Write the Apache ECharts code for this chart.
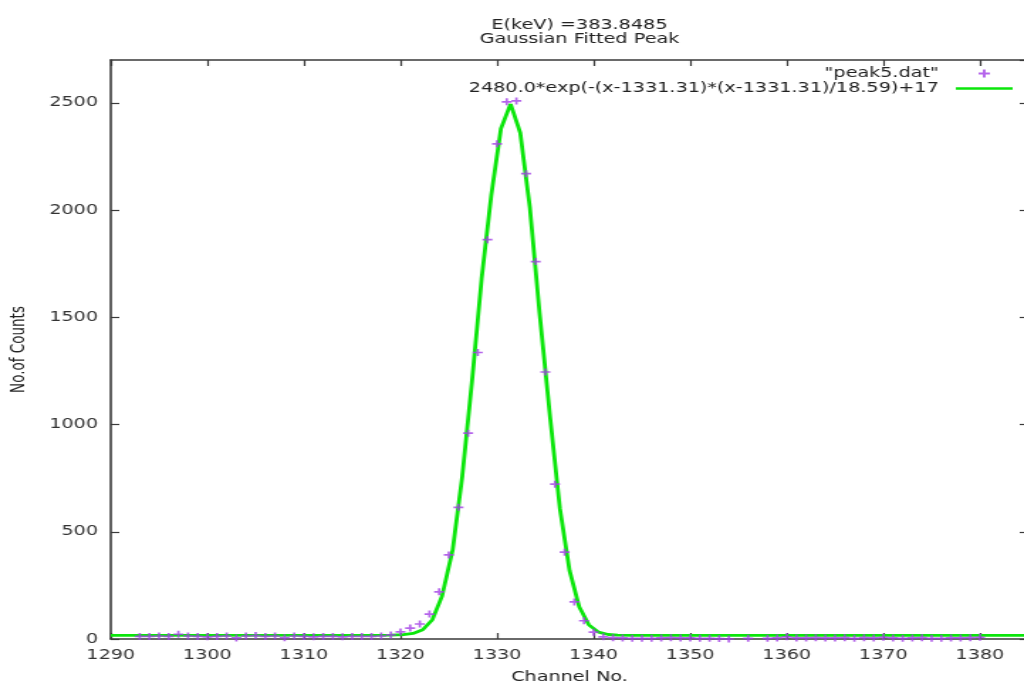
<!DOCTYPE html>
<html>
<head>
<meta charset="utf-8">
<script src="https://cdn.jsdelivr.net/npm/echarts@6/dist/echarts.min.js"></script>
<style>
  html, body { margin: 0; padding: 0; background: #fff; overflow: hidden; }
  /* the reference is stretched sideways, so draw narrow and widen it */
  #main { width: 721px; height: 683px; transform: scaleX(1.4202); transform-origin: 0 0; }
</style>
</head>
<body>
<div id="main"></div>
<script>
var chartDom = document.getElementById('main');
var myChart = echarts.init(chartDom);
var option;

// measured points from peak5.dat
let channels = [
  1293, 1294, 1295, 1296, 1297, 1298, 1299, 1300, 1301, 1302,
  1303, 1304, 1305, 1306, 1307, 1308, 1309, 1310, 1311, 1312,
  1313, 1314, 1315, 1316, 1317, 1318, 1319, 1320, 1321, 1322,
  1323, 1324, 1325, 1326, 1327, 1328, 1329, 1330, 1331, 1332,
  1333, 1334, 1335, 1336, 1337, 1338, 1339, 1340, 1341, 1342,
  1343, 1344, 1345, 1346, 1347, 1348, 1349, 1350, 1351, 1352,
  1353, 1354, 1355, 1356, 1357, 1358, 1359, 1360, 1361, 1362,
  1363, 1364, 1365, 1366, 1367, 1368, 1369, 1370, 1371, 1372,
  1373, 1374, 1375, 1376, 1377, 1378, 1379, 1380
];
let counts = [
  12, 12, 14, 12, 22, 14, 12, 10, 12, 14,
  5, 14, 16, 12, 14, 6, 14, 12, 10, 12,
  12, 10, 12, 12, 12, 14, 19, 33, 51, 70,
  116, 220, 392, 614, 960, 1336, 1862, 2309, 2505, 2509,
  2170, 1760, 1245, 722, 405, 173, 85, 32, 10, 6,
  5, 3, 3, 3, 5, 6, 5, 5, 3, 3,
  2, 0, -3, 3, -3, 3, 5, 10, 5, 5,
  6, 5, 5, 6, 3, 6, 5, 8, 5, 3,
  5, 6, 3, 3, 5, 5, 6, 8
];

// fitted curve
let fitX = [
  1290, 1319, 1320.3, 1321.3, 1322.3, 1323.3, 1324.3, 1325.4, 1326.4, 1327.4,
  1328.4, 1329.4, 1330.4, 1331.4, 1332.4, 1333.4, 1334.4, 1335.5, 1336.5, 1337.5,
  1338.5, 1339.5, 1340.5, 1341.5, 1342.5, 1344, 1385
];
let fitY = [
  17, 18, 20, 26, 43, 90, 200, 415, 760, 1200,
  1680, 2070, 2380, 2495, 2360, 2010, 1520, 1030, 610, 320,
  150, 66, 32, 21, 18, 17, 17
];

let titleText = 'E(keV) =383.8485';
let subTitleText = 'Gaussian Fitted Peak';
let dataName = '"peak5.dat"';
let fitName = '2480.0*exp(-(x-1331.31)*(x-1331.31)/18.59)+17';

let font = 'DejaVu Sans';
let plus = 'path://M3.8,0H6.2V3.8H10V6.2H6.2V10H3.8V6.2H0V3.8H3.8Z';

let points = channels.map(function (c, i) { return [c, counts[i]]; });
let fitted = fitX.map(function (x, i) { return [x, fitY[i]]; });

let axisLine = { show: true, onZero: false, lineStyle: { color: '#3a3a3a', width: 1.6 } };
let tick = { show: true, inside: true, length: 6, lineStyle: { color: '#3a3a3a', width: 1.2 } };
let plain = function (v) { return String(v); };

option = {
  animation: false,
  backgroundColor: '#fff',
  title: {
    text: titleText,
    subtext: subTitleText,
    left: 403,
    top: 13,
    textAlign: 'center',
    itemGap: 0,
    textStyle: { fontFamily: font, fontSize: 13.5, fontWeight: 'normal', color: '#222' },
    subtextStyle: { fontFamily: font, fontSize: 13.5, color: '#222' }
  },
  legend: {
    orient: 'vertical',
    right: 3,
    top: 61,
    align: 'right',
    itemWidth: 40,
    itemHeight: 8,
    itemGap: 0,
    textStyle: { fontFamily: font, fontSize: 13.5, color: '#222', lineHeight: 15, padding: [0, 7, 0, 0] },
    data: [
      { name: dataName, icon: plus },
      { name: fitName, icon: 'path://M0,0H16V1H0Z' }
    ]
  },
  grid: { left: 78, right: -3, top: 60, bottom: 44, outerBoundsMode: 'none' },
  xAxis: [
    {
      type: 'value',
      min: 1290,
      max: 1385,
      interval: 10,
      name: 'Channel No.',
      nameLocation: 'middle',
      nameGap: 31,
      nameTextStyle: { fontFamily: font, fontSize: 13.5, color: '#222' },
      axisLine: axisLine,
      axisTick: tick,
      splitLine: { show: false },
      axisLabel: { fontFamily: font, fontSize: 13.5, color: '#333', margin: 9, showMaxLabel: false, formatter: plain }
    },
    {
      type: 'value',
      position: 'top',
      min: 1290,
      max: 1385,
      interval: 10,
      axisLine: axisLine,
      axisTick: tick,
      splitLine: { show: false },
      axisLabel: { show: false }
    }
  ],
  yAxis: [
    {
      type: 'value',
      min: 0,
      max: 2700,
      interval: 500,
      name: 'No.of Counts',
      nameLocation: 'middle',
      nameGap: 58,
      nameTextStyle: { fontFamily: font, fontSize: 13.5, color: '#222' },
      axisLine: axisLine,
      axisTick: tick,
      splitLine: { show: false },
      axisLabel: { fontFamily: font, fontSize: 13.5, color: '#333', margin: 9, showMaxLabel: false, formatter: plain }
    },
    {
      type: 'value',
      position: 'right',
      min: 0,
      max: 2700,
      interval: 500,
      axisLine: axisLine,
      axisTick: tick,
      splitLine: { show: false },
      axisLabel: { show: false }
    }
  ],
  series: [
    {
      name: dataName,
      type: 'scatter',
      data: points,
      symbol: plus,
      symbolSize: 7,
      itemStyle: { color: '#a23fe6' },
      z: 3
    },
    {
      name: fitName,
      type: 'line',
      data: fitted,
      showSymbol: false,
      itemStyle: { color: '#0be60b' },
      lineStyle: { color: '#0be60b', width: 2.8 },
      z: 2
    }
  ]
};

option && myChart.setOption(option);
</script>
</body>
</html>
